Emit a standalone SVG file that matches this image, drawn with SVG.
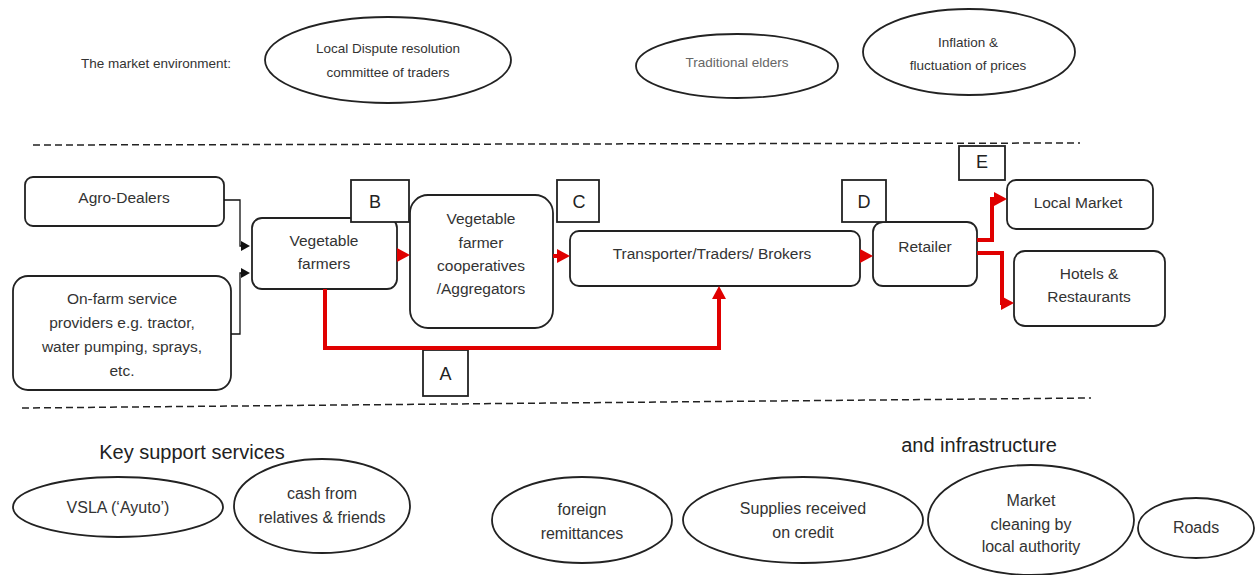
<svg xmlns="http://www.w3.org/2000/svg" width="1258" height="575" viewBox="0 0 1258 575">
<style>
text{font-family:"Liberation Sans",Arial,sans-serif;fill:#333;text-anchor:middle;dominant-baseline:central}
.env{font-size:13.5px}
.box{font-size:15.5px}
.lbl{font-size:18px;fill:#222}
.sup{font-size:16px}
.hd{font-size:20px;fill:#222}
.node{fill:#fff;stroke:#222;stroke-width:1.8}
.ell{fill:#fff;stroke:#222;stroke-width:1.8}
.dash{stroke:#222;stroke-width:1.5;stroke-dasharray:7 4;fill:none}
.red{stroke:#e00000;stroke-width:4;fill:none;marker-end:url(#ra)}
.blk{stroke:#111;stroke-width:1.3;fill:none;marker-end:url(#ba)}
</style>
<defs>
<marker id="ra" markerUnits="userSpaceOnUse" markerWidth="16" markerHeight="16" refX="2" refY="7" orient="auto">
<path d="M0,0 L13,7 L0,14 z" fill="#e00000"/>
</marker>
<marker id="ba" markerUnits="userSpaceOnUse" markerWidth="12" markerHeight="12" refX="2" refY="5" orient="auto">
<path d="M0,0 L9,5 L0,10 z" fill="#111"/>
</marker>
</defs>
<rect width="1258" height="575" fill="#fff"/>

<g id="env-title"><text class="env" x="156" y="63">The market environment:</text></g>
<g id="env-dispute"><ellipse class="ell" cx="388" cy="60" rx="123" ry="43"/><text class="env" x="388" y="48">Local Dispute resolution</text><text class="env" x="388" y="72">committee of traders</text></g>
<g id="env-elders"><ellipse class="ell" cx="737" cy="66" rx="101" ry="32"/><text class="env" x="737" y="62" style="fill:#666">Traditional elders</text></g>
<g id="env-inflation"><ellipse class="ell" cx="969" cy="52" rx="106" ry="43"/><text class="env" x="968" y="42">Inflation &amp;</text><text class="env" x="968" y="65">fluctuation of prices</text></g>

<g id="dividers">
<line class="dash" x1="33" y1="145" x2="1080" y2="143"/>
<line class="dash" x1="22" y1="408" x2="1091" y2="398"/>
</g>

<g id="agro"><rect class="node" x="25" y="177" width="199" height="49" rx="8"/><text class="box" x="124" y="197">Agro-Dealers</text></g>
<g id="onfarm"><rect class="node" x="13" y="276" width="218" height="114" rx="15"/><text class="box" x="122" y="298">On-farm service</text><text class="box" x="122" y="322">providers e.g. tractor,</text><text class="box" x="122" y="346">water pumping, sprays,</text><text class="box" x="122" y="370">etc.</text></g>
<g id="farmers"><rect class="node" x="252" y="218" width="145" height="71" rx="10"/><text class="box" x="324" y="240">Vegetable</text><text class="box" x="324" y="263">farmers</text></g>
<g id="coops"><rect class="node" x="410" y="195" width="143" height="133" rx="18"/><text class="box" x="481" y="218">Vegetable</text><text class="box" x="481" y="242">farmer</text><text class="box" x="481" y="265">cooperatives</text><text class="box" x="481" y="288">/Aggregators</text></g>
<g id="traders"><rect class="node" x="570" y="231" width="290" height="55" rx="9"/><text class="box" x="712" y="253">Transporter/Traders/ Brokers</text></g>
<g id="retailer"><rect class="node" x="873" y="222" width="104" height="64" rx="10"/><text class="box" x="925" y="246">Retailer</text></g>
<g id="localmarket"><rect class="node" x="1007" y="180" width="146" height="49" rx="9"/><text class="box" x="1078" y="202">Local Market</text></g>
<g id="hotels"><rect class="node" x="1014" y="251" width="151" height="75" rx="11"/><text class="box" x="1089" y="273">Hotels &amp;</text><text class="box" x="1089" y="296">Restaurants</text></g>

<g id="label-A"><rect class="node" x="423" y="350" width="45" height="46"/><text class="lbl" x="445.5" y="374">A</text></g>
<g id="label-B"><rect class="node" x="351" y="180" width="58" height="42"/><text class="lbl" x="375" y="202">B</text></g>
<g id="label-C"><rect class="node" x="557" y="180" width="42" height="42"/><text class="lbl" x="579" y="202">C</text></g>
<g id="label-D"><rect class="node" x="842" y="180" width="44" height="42"/><text class="lbl" x="864" y="202">D</text></g>
<g id="label-E"><rect class="node" x="959" y="146" width="46" height="34"/><text class="lbl" x="982" y="162">E</text></g>

<g id="connectors">
<path class="blk" d="M224,200 H240 V246 H243"/>
<path class="blk" d="M231,334 H240 V273 H243"/>
<path class="red" d="M397,255 H399"/>
<path class="red" d="M553,256 H559"/>
<path class="red" d="M860,256 H862"/>
<path class="red" d="M325,289 V348 H719 V297"/>
<path class="red" d="M977,240 H992 V199 H996"/>
<path class="red" d="M977,253 H1002 V303 H1003"/>
</g>

<g id="support-title"><text class="hd" x="192" y="452">Key support services</text></g>
<g id="infra-title"><text class="hd" x="979" y="445">and infrastructure</text></g>
<g id="vsla"><ellipse class="ell" cx="118" cy="507" rx="105" ry="30"/><text class="sup" x="118" y="507">VSLA (‘Ayuto’)</text></g>
<g id="cash"><ellipse class="ell" cx="322" cy="506" rx="88" ry="47"/><text class="sup" x="322" y="493">cash from</text><text class="sup" x="322" y="517">relatives &amp; friends</text></g>
<g id="remit"><ellipse class="ell" cx="582" cy="520" rx="90" ry="43"/><text class="sup" x="582" y="509">foreign</text><text class="sup" x="582" y="533">remittances</text></g>
<g id="supplies"><ellipse class="ell" cx="803" cy="520" rx="120" ry="43"/><text class="sup" x="803" y="508">Supplies received</text><text class="sup" x="803" y="532">on credit</text></g>
<g id="cleaning"><ellipse class="ell" cx="1031" cy="520" rx="103" ry="55"/><text class="sup" x="1031" y="500">Market</text><text class="sup" x="1031" y="524">cleaning by</text><text class="sup" x="1031" y="546">local authority</text></g>
<g id="roads"><ellipse class="ell" cx="1196" cy="528" rx="58" ry="30"/><text class="sup" x="1196" y="527">Roads</text></g>
</svg>
